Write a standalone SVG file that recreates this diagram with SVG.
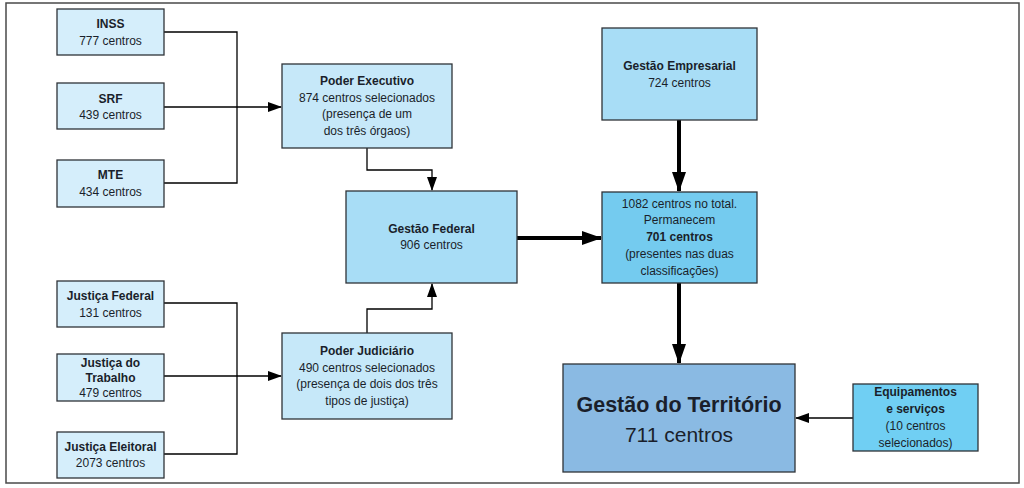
<svg xmlns="http://www.w3.org/2000/svg" width="1024" height="488" viewBox="0 0 1024 488">
<style>
text{font-family:"Liberation Sans",Arial,sans-serif;font-size:12px;fill:#1a1f2b;text-anchor:middle}
.b{font-weight:bold}
.box{stroke:#2f3338;stroke-width:1.3}
.l1{fill:#d5eefb}
.l2{fill:#c6e8f9}
.l3{fill:#a8ddf6}
.l4{fill:#74cbef}
.l5{fill:#8abae3}
.l6{fill:#70cff3}
.thin{fill:none;stroke:#000;stroke-width:1.3}
.thick{fill:none;stroke:#000;stroke-width:4}
</style>
<defs>
<marker id="a" markerWidth="14" markerHeight="10" refX="13" refY="5" orient="auto" markerUnits="userSpaceOnUse"><path d="M0,0 L14,5 L0,10 Z" fill="#000"/></marker>
<marker id="A" markerWidth="20" markerHeight="14" refX="19" refY="7" orient="auto" markerUnits="userSpaceOnUse"><path d="M0,0 L20,7 L0,14 Z" fill="#000"/></marker>
</defs>
<rect x="6" y="3" width="1013" height="480" fill="#fff" stroke="#4a4a4a" stroke-width="1.5"/>
<g id="connectors">
<path class="thin" d="M164,32 H237 V183 H164"/>
<path class="thin" d="M164,107 H281" marker-end="url(#a)"/>
<path class="thin" d="M164,303 H237 V454 H164"/>
<path class="thin" d="M164,376 H281" marker-end="url(#a)"/>
<path class="thin" d="M367,148 V170 H432 V190" marker-end="url(#a)"/>
<path class="thin" d="M367,333 V309 H432 V284" marker-end="url(#a)"/>
<path class="thick" d="M517,238 H601" marker-end="url(#A)"/>
<path class="thick" d="M679,120 V191" marker-end="url(#A)"/>
<path class="thick" d="M679,283 V363" marker-end="url(#A)"/>
<path class="thin" d="M853,418 H796" marker-end="url(#a)"/>
</g>
<g id="inss"><rect class="box l1" x="57" y="9" width="107" height="46"/><text class="b" x="110.5" y="28">INSS</text><text x="110.5" y="45">777 centros</text></g>
<g id="srf"><rect class="box l1" x="57" y="83" width="107" height="46"/><text class="b" x="110.5" y="103">SRF</text><text x="110.5" y="119">439 centros</text></g>
<g id="mte"><rect class="box l1" x="57" y="160" width="107" height="47"/><text class="b" x="110.5" y="179">MTE</text><text x="110.5" y="196">434 centros</text></g>
<g id="jf"><rect class="box l1" x="57" y="281" width="107" height="46"/><text class="b" x="110.5" y="300">Justiça Federal</text><text x="110.5" y="317">131 centros</text></g>
<g id="jt"><rect class="box l1" x="57" y="354" width="107" height="47"/><text class="b" x="110.5" y="367">Justiça do</text><text class="b" x="110.5" y="382">Trabalho</text><text x="110.5" y="397">479 centros</text></g>
<g id="je"><rect class="box l1" x="57" y="432" width="107" height="46"/><text class="b" x="110.5" y="451">Justiça Eleitoral</text><text x="110.5" y="467">2073 centros</text></g>
<g id="pe"><rect class="box l2" x="282" y="64" width="170" height="84"/><text class="b" x="367" y="85">Poder Executivo</text><text x="367" y="102">874 centros selecionados</text><text x="367" y="118">(presença de um</text><text x="367" y="135">dos três órgaos)</text></g>
<g id="pj"><rect class="box l2" x="282" y="333" width="170" height="86"/><text class="b" x="367" y="355">Poder Judiciário</text><text x="367" y="372">490 centros selecionados</text><text x="367" y="388">(presença de dois dos três</text><text x="367" y="405">tipos de justiça)</text></g>
<g id="gf"><rect class="box l3" x="346" y="191" width="171" height="92"/><text class="b" x="431.5" y="233">Gestão Federal</text><text x="431.5" y="249">906 centros</text></g>
<g id="ge"><rect class="box l3" x="602" y="28" width="155" height="92"/><text class="b" x="679.5" y="70">Gestão Empresarial</text><text x="679.5" y="87">724 centros</text></g>
<g id="total"><rect class="box l4" x="602" y="192" width="155" height="91"/><text x="679.5" y="208">1082 centros no total.</text><text x="679.5" y="224">Permanecem</text><text class="b" x="679.5" y="241">701 centros</text><text x="679.5" y="258">(presentes nas duas</text><text x="679.5" y="275">classificações)</text></g>
<g id="gt"><rect class="box l5" x="563" y="364" width="232" height="108"/><text class="b" x="679" y="412" style="font-size:21.5px">Gestão do Território</text><text x="679" y="442" style="font-size:21px">711 centros</text></g>
<g id="eq"><rect class="box l6" x="853" y="384" width="125" height="67"/><text class="b" x="915.5" y="396">Equipamentos</text><text class="b" x="915.5" y="413">e serviços</text><text x="915.5" y="430">(10 centros</text><text x="915.5" y="447">selecionados)</text></g>
</svg>
